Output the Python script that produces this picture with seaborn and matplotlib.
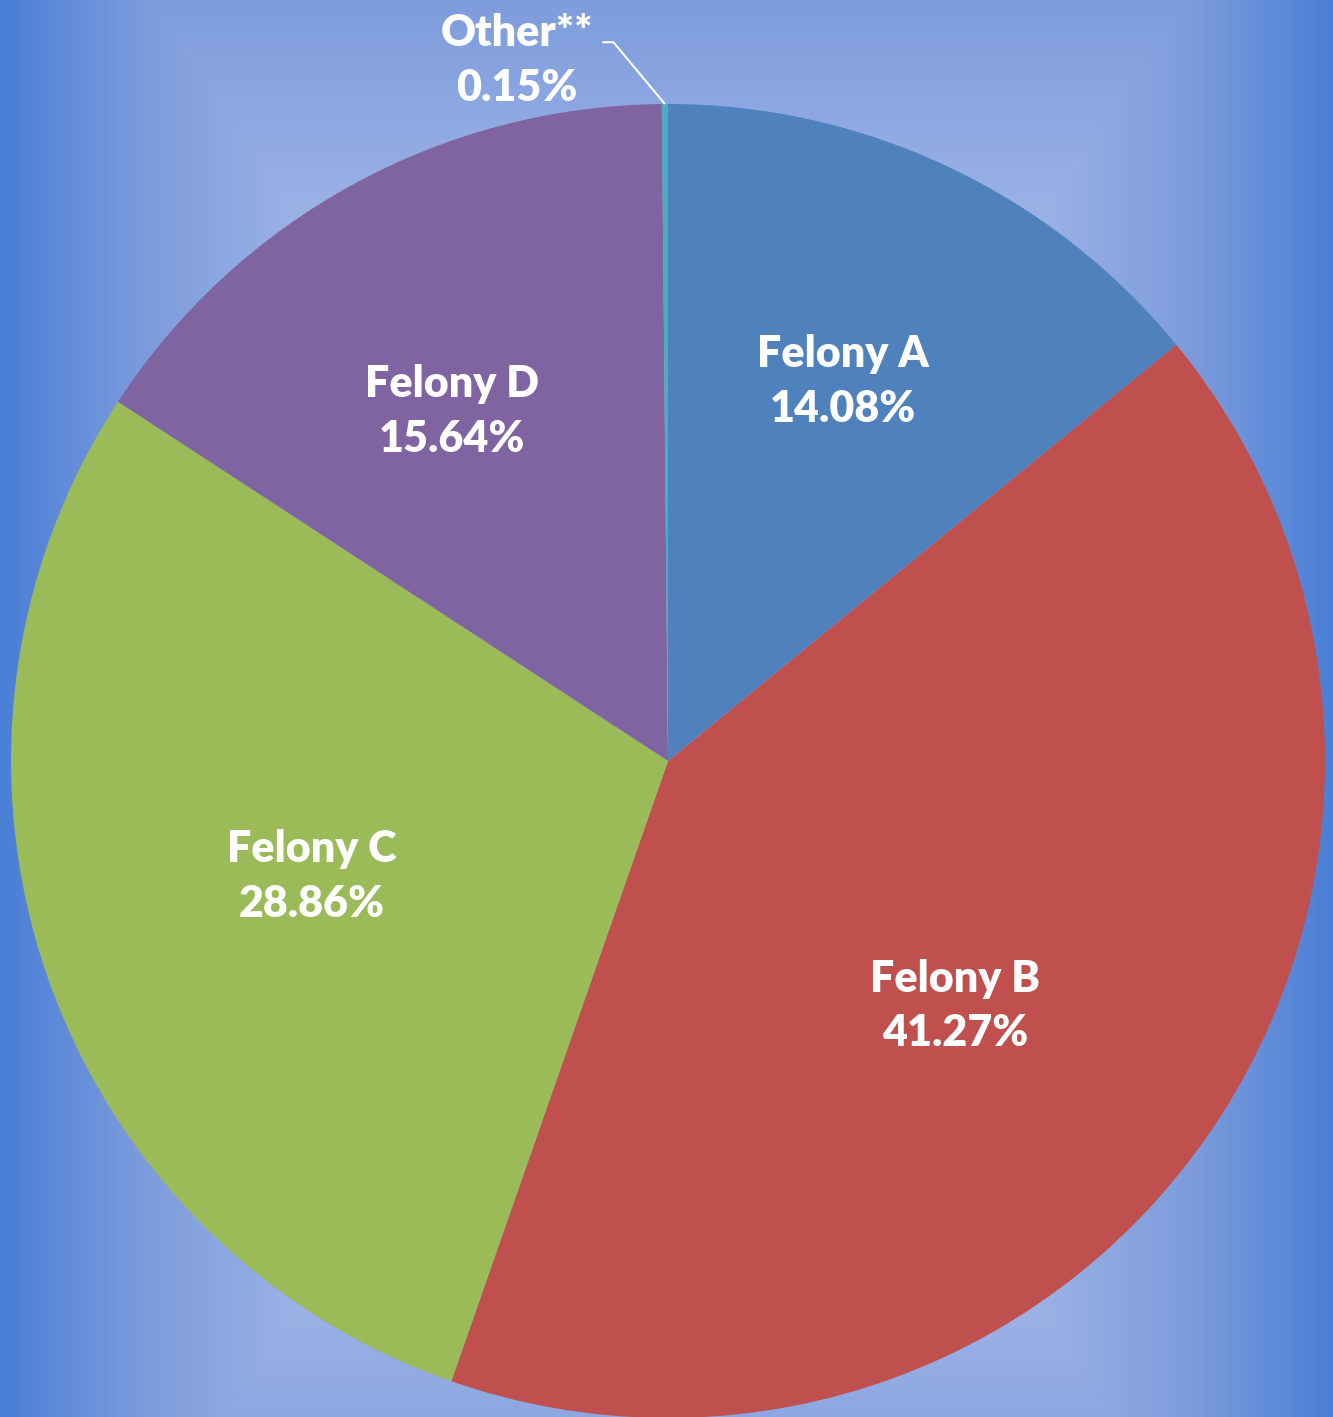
import numpy as np
import matplotlib
matplotlib.use("Agg")
import matplotlib.pyplot as plt
from matplotlib.colors import LinearSegmentedColormap
import seaborn as sns

sns.set_style("white")
plt.rcParams['font.family'] = ['Lato', 'DejaVu Sans']

# ---- data ----
categories = ["Felony A", "Felony B", "Felony C", "Felony D", "Other**"]
shares = [14.08, 41.27, 28.86, 15.64, 0.15]
pct_labels = ["14.08%", "41.27%", "28.86%", "15.64%", "0.15%"]

# ---- style ----
slice_colors = ["#4f81bd", "#c0504d", "#9bbb59", "#8064a2", "#4bacc6"]
label_pos = [(0.266, 0.578), (0.437, -0.373), (-0.542, -0.176),
             (-0.329, 0.532), (-0.230, 1.066)]

W, H = 1333, 1417
fig = plt.figure(figsize=(W / 100, H / 100), dpi=100)

# background: rectangular path gradient (light centre, blue edges)
bg = fig.add_axes([0, 0, 1, 1], zorder=0)
yy, xx = np.mgrid[0:H, 0:W]
cx, cy = 668, 761
t = np.maximum(np.abs(xx - cx) / 666.0, np.abs(yy - cy) / 980.0)
t = np.clip(t, 0, 1)
cmap = LinearSegmentedColormap.from_list(
    "bg", [(0.0, "#bccbee"), (0.55, "#9cb3e6"), (0.8, "#7b9adc"), (1.0, "#4a7fd6")])
bg.imshow(t, cmap=cmap, vmin=0, vmax=1, aspect="auto", interpolation="bilinear")
bg.axis("off")

# pie axes
R = 657
ax = fig.add_axes([(cx - R) / W, (H - cy - R) / H, 2 * R / W, 2 * R / H], zorder=1)
ax.set_facecolor("none")
wedges, _ = ax.pie(shares, colors=slice_colors, startangle=90, counterclock=False,
                   radius=1.0, wedgeprops=dict(linewidth=0))
ax.set_xlim(-1, 1)
ax.set_ylim(-1, 1)
ax.set_aspect("equal")
ax.axis("off")

for cat, pct, (lx, ly) in zip(categories, pct_labels, label_pos):
    ax.text(lx, ly, f"{cat}\n{pct}", ha="center", va="center", color="white",
            fontsize=31, fontweight="heavy", linespacing=1.45, clip_on=False)

# leader line for the tiny "Other" slice
w = wedges[-1]
mid = np.deg2rad((w.theta1 + w.theta2) / 2)
px, py = np.cos(mid), np.sin(mid)
ax.plot([-0.100, -0.083, px], [1.094, 1.094, py], color="white", lw=1.5,
        clip_on=False, solid_capstyle="butt")

fig.savefig("out.png", dpi=100)
